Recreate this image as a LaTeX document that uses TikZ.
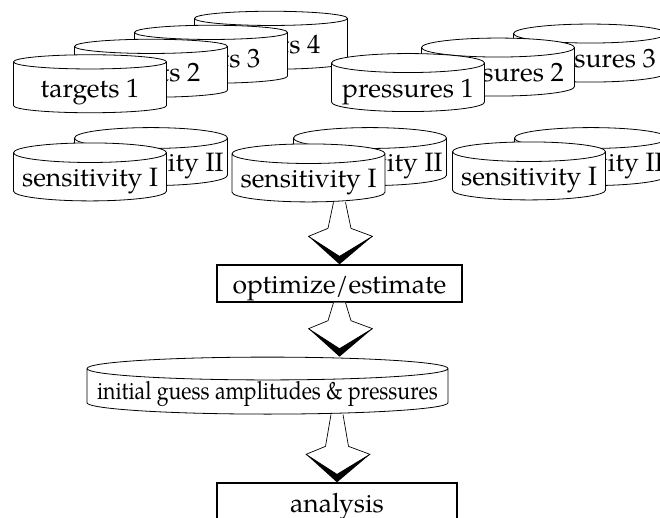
\documentclass[tikz,border=0pt]{standalone}
\usepackage{fontspec}
\setmainfont{texgyrepagella-regular.otf}
\usetikzlibrary{shapes.geometric,calc}

% big hollow flow arrow with a dark chevron under its head
% #1: top of the shaft, #2: tip of the head
\newcommand\flowarrow[2]{%
  \path let \p1=#1, \p2=#2 in
    [fill=white, draw, line width=0.7pt, line join=round]
      (\x1-6pt,\y1) -- (\x2-11.5pt,\y2+36pt) -- (\x2-31pt,\y2+28pt)
      -- (\x2,\y2+8pt) -- (\x2+33pt,\y2+28pt) -- (\x2+11.5pt,\y2+36pt)
      -- (\x1+6pt,\y1);
  \path let \p2=#2 in
    [fill=black]
      (\x2-31pt,\y2+28pt) -- (\x2,\y2) -- (\x2+33pt,\y2+28pt)
      -- (\x2+31pt,\y2+27pt) -- (\x2,\y2+8pt) -- (\x2-28pt,\y2+26pt) -- cycle;
}

\begin{document}
\begin{tikzpicture}[x=1pt,y=-1pt,
  drum/.style={cylinder, shape border rotate=90, draw, fill=white,
    line width=0.8pt, minimum width=153pt, minimum height=58pt,
    aspect=0.144, inner sep=0pt, text height=19pt, text depth=0pt,
    font=\fontsize{26.5}{28}\selectfont},
  procbox/.style={rectangle, draw, fill=white, line width=1.3pt,
    inner sep=0pt, text height=19pt, text depth=0pt,
    font=\fontsize{26.5}{28}\selectfont}]
\useasboundingbox (0,0) rectangle (660,517);

% targets stack
\node[drum] (t4) at (271,44) {targets 4};
\node[drum] (t3) at (211,58) {targets 3};
\node[drum] (t2) at (151,72) {targets 2};
\node[drum] (t1) at (90,87.5) {targets 1};

% pressures stack
\node[drum] (p3) at (590,58) {pressures 3};
\node[drum] (p2) at (498,72) {pressures 2};
\node[drum] (p1) at (408,87.5) {pressures 1};

% sensitivity pairs
\node[drum] (sa2) at (151,162) {sensitivity II};
\node[drum] (sa1) at (90,177) {sensitivity I};
\node[drum] (sb2) at (370,162) {sensitivity II};
\node[drum] (sb1) at (308.5,178) {sensitivity I};
\node[drum] (sc2) at (591,162) {sensitivity II};
\node[drum] (sc1) at (529,176) {sensitivity I};

% processing chain
\node[procbox, minimum width=245pt, minimum height=37pt] (opt) at (339.5,283.5) {optimize/estimate};
\node[drum, minimum width=361pt, minimum height=57pt, aspect=0.067,
  text height=16pt, font=\fontsize{25}{27}\selectfont] (init) at (267.5,391.5)
  {\scalebox{0.85}[1]{initial guess amplitudes \& pressures}};
\node[procbox, minimum width=240pt, minimum height=40pt] (ana) at (337,503) {analysis};

\flowarrow{(opt.north |- sb1.bottom)}{(opt.north)}
\flowarrow{(opt.south)}{(opt.south |- init.top)}
\flowarrow{(ana.north |- init.bottom)}{(ana.north)}
\end{tikzpicture}
\end{document}
